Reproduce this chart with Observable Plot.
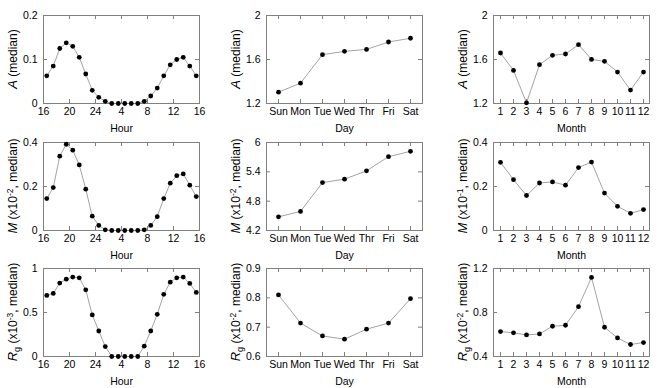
<!DOCTYPE html>
<html><head><meta charset="utf-8">
<script src="https://cdn.jsdelivr.net/npm/d3@7"></script>
<script src="https://cdn.jsdelivr.net/npm/@observablehq/plot@0.6"></script>
<style>
body{margin:0;background:#fff;}
#wrap{position:relative;width:664px;height:388px;overflow:hidden;background:#fff;}
#wrap svg{position:absolute;}
</style></head><body><div id="wrap"></div>
<script>
// ---- data ----
const hours = d3.range(24).map(i => 16.5 + i); // hour bins starting at 16:00
const hourTicks = [16, 20, 24, 28, 32, 36, 40];
const hourTickLabels = ["16", "20", "24", "4", "8", "12", "16"];
const hourA = [0.063,0.085,0.125,0.138,0.130,0.105,0.067,0.030,0.014,0.005,0,0,0,0,0,0.005,0.017,0.035,0.063,0.088,0.100,0.105,0.085,0.063];
const hourM = [0.145,0.195,0.338,0.392,0.365,0.298,0.188,0.065,0.023,0.003,0,0,0,0,0,0.003,0.023,0.063,0.145,0.215,0.249,0.257,0.206,0.154];
const hourRg = [0.694,0.717,0.834,0.879,0.902,0.894,0.758,0.472,0.290,0.113,0,0,0,0,0,0.117,0.290,0.479,0.706,0.845,0.894,0.902,0.830,0.728];

const days = ["Sun", "Mon", "Tue", "Wed", "Thr", "Fri", "Sat"];
const dayA = [1.303,1.385,1.644,1.674,1.692,1.759,1.793];
const dayM = [4.48,4.59,5.18,5.25,5.42,5.71,5.82];
const dayRg = [0.810,0.714,0.670,0.659,0.693,0.714,0.797];

const months = [1,2,3,4,5,6,7,8,9,10,11,12];
const monthA = [1.659,1.501,1.206,1.553,1.638,1.650,1.735,1.601,1.583,1.486,1.322,1.486];
const monthM = [0.310,0.231,0.159,0.216,0.221,0.206,0.286,0.311,0.170,0.110,0.078,0.095];
const monthRg = [0.627,0.615,0.596,0.605,0.675,0.684,0.853,1.119,0.666,0.569,0.509,0.527];

const yTicksA_hour = [0, 0.1, 0.2];
const yTicksA = [1.2, 1.6, 2];
const yTicksM_hour = [0, 0.2, 0.4];
const yTicksM_day = [4.2, 4.8, 5.4, 6];
const yTicksM_month = [0, 0.2, 0.4];
const yTicksRg_hour = [0, 0.5, 1];
const yTicksRg_day = [0.6, 0.7, 0.8, 0.9];
const yTicksRg_month = [0.4, 0.8, 1.2];

const labelA = [{t: "A", it: true}, {t: " (median)"}];
const labelM2 = [{t: "M", it: true}, {t: " (x10"}, {t: "-2", sup: true}, {t: ", median)"}];
const labelM1 = [{t: "M", it: true}, {t: " (x10"}, {t: "-1", sup: true}, {t: ", median)"}];
const labelRg3 = [{t: "R", it: true}, {t: "g", sub: true}, {t: " (x10"}, {t: "-3", sup: true}, {t: ", median)"}];
const labelRg2 = [{t: "R", it: true}, {t: "g", sub: true}, {t: " (x10"}, {t: "-2", sup: true}, {t: ", median)"}];

// ---- layout ----
const FONT = "'Liberation Sans', Arial, Helvetica, sans-serif";
const W = 156, H = 88, ML = 43, MT = 15, MR = 10, MB = 32;
const colLeft = [43, 266, 493];
const rowTop = [15, 142, 268];
const FRAME = "#808080";

function panel(col, row, cfg) {
  const data = cfg.xs.map((x, i) => ({x, y: cfg.ys[i]}));
  const xScale = cfg.kind === "hour"
    ? {type: "linear", domain: [16, 40]}
    : {type: "point", domain: cfg.xs, padding: 0.5};
  const xFmt = cfg.kind === "hour" ? (d => hourTickLabels[hourTicks.indexOf(d)]) : (d => String(d));
  const plot = Plot.plot({
    width: ML + W + MR, height: MT + H + MB,
    marginLeft: ML, marginTop: MT, marginRight: MR, marginBottom: MB,
    style: {fontFamily: FONT, fontSize: "10.5px", color: "#000", background: "none", overflow: "visible"},
    x: xScale,
    y: {domain: [cfg.yTicks[0], cfg.yTicks[cfg.yTicks.length - 1]]},
    marks: [
      Plot.frame({stroke: FRAME, strokeWidth: 1}),
      Plot.tickX(cfg.xTicks, {x: d => d, insetTop: H - 4, stroke: FRAME}),
      Plot.tickX(cfg.xTicks, {x: d => d, insetBottom: H - 4, stroke: FRAME}),
      Plot.tickY(cfg.yTicks, {y: d => d, insetRight: W - 4, stroke: FRAME}),
      Plot.tickY(cfg.yTicks, {y: d => d, insetLeft: W - 4, stroke: FRAME}),
      Plot.axisX(cfg.xTicks, {tickSize: 0, tickPadding: 4, tickFormat: xFmt, label: null, fill: "#000"}),
      Plot.axisY(cfg.yTicks, {tickSize: 0, tickPadding: 6, tickFormat: d3.format("~g"), label: null, fill: "#000"}),
      Plot.line(data, {x: "x", y: "y", stroke: "#999", strokeWidth: 0.9}),
      Plot.dot(data, {x: "x", y: "y", r: 2.4, fill: "#000", stroke: "none"}),
      Plot.text([cfg.xTitle], {text: d => d, frameAnchor: "bottom", lineAnchor: "top", dy: 21, fontSize: 10.5, fill: "#000"})
    ]
  });
  plot.style.left = (colLeft[col] - ML) + "px";
  plot.style.top = (rowTop[row] - MT) + "px";
  // y-axis title with italic symbol, sub/superscripts
  const t = d3.select(plot).append("text")
    .attr("transform", `translate(${ML - 26},${MT + H / 2}) rotate(-90)`)
    .attr("text-anchor", "middle")
    .attr("fill", "#000")
    .style("font-family", FONT)
    .style("font-size", "12px");
  let shift = 0;
  for (const p of cfg.label) {
    const s = t.append("tspan").text(p.t);
    let target = 0;
    if (p.sup) { target = -4.5; s.style("font-size", "8.5px"); }
    else if (p.sub) { target = 3; s.style("font-size", "9px"); }
    if (p.it) s.style("font-style", "italic").style("font-size", "13px");
    if (target !== shift) { s.attr("dy", target - shift); shift = target; }
  }
  document.getElementById("wrap").appendChild(plot);
}

panel(0, 0, {kind: "hour", xs: hours, ys: hourA, xTicks: hourTicks, yTicks: yTicksA_hour, xTitle: "Hour", label: labelA});
panel(1, 0, {kind: "day", xs: days, ys: dayA, xTicks: days, yTicks: yTicksA, xTitle: "Day", label: labelA});
panel(2, 0, {kind: "month", xs: months, ys: monthA, xTicks: months, yTicks: yTicksA, xTitle: "Month", label: labelA});
panel(0, 1, {kind: "hour", xs: hours, ys: hourM, xTicks: hourTicks, yTicks: yTicksM_hour, xTitle: "Hour", label: labelM2});
panel(1, 1, {kind: "day", xs: days, ys: dayM, xTicks: days, yTicks: yTicksM_day, xTitle: "Day", label: labelM2});
panel(2, 1, {kind: "month", xs: months, ys: monthM, xTicks: months, yTicks: yTicksM_month, xTitle: "Month", label: labelM1});
panel(0, 2, {kind: "hour", xs: hours, ys: hourRg, xTicks: hourTicks, yTicks: yTicksRg_hour, xTitle: "Hour", label: labelRg3});
panel(1, 2, {kind: "day", xs: days, ys: dayRg, xTicks: days, yTicks: yTicksRg_day, xTitle: "Day", label: labelRg2});
panel(2, 2, {kind: "month", xs: months, ys: monthRg, xTicks: months, yTicks: yTicksRg_month, xTitle: "Month", label: labelRg2});
</script>
</body></html>
